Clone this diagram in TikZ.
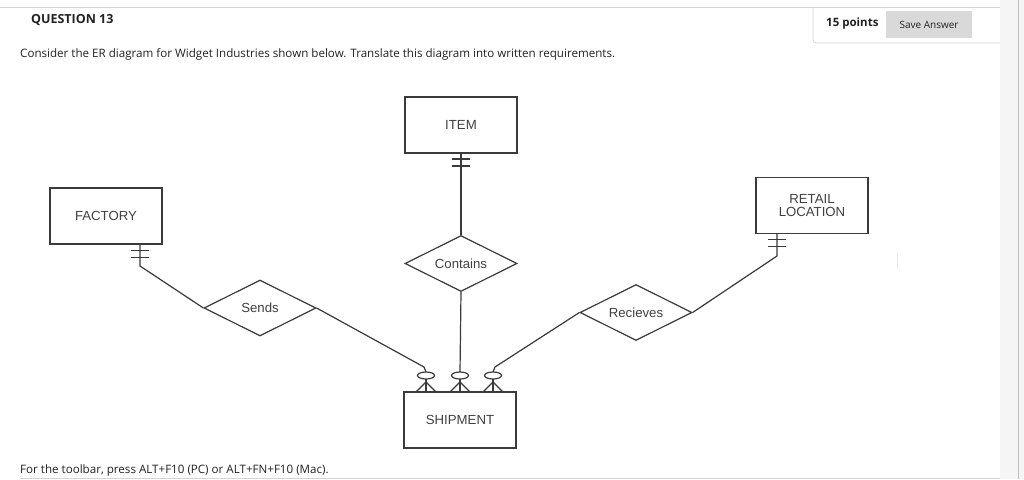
\documentclass[tikz,border=0pt]{standalone}
\usepackage{fontspec}
\setmainfont{Open Sans}
\newfontfamily\diafont{Liberation Sans}
\usetikzlibrary{shapes.geometric}
\definecolor{linec}{HTML}{3A3A3A}
\definecolor{txtc}{HTML}{222222}
\definecolor{diatxt}{HTML}{404040}
\definecolor{rulec}{HTML}{D4D4D4}
\definecolor{btnc}{HTML}{D9D9D9}
\tikzset{
  entity/.style={draw=linec, line width=1.2pt, minimum width=112pt, minimum height=56pt, inner sep=0pt, font=\diafont\fontsize{13.2}{15}\selectfont, text=diatxt, align=center},
  relation/.style={draw=linec, line width=1.2pt, shape=diamond, aspect=2, minimum width=112pt, minimum height=56pt, inner sep=0pt, font=\diafont\fontsize{13.2}{15}\selectfont, text=diatxt},
  conn/.style={draw=linec, line width=1.2pt},
  pagetext/.style={anchor=west, inner sep=0pt, text=txtc, font=\fontsize{11.6}{13}\selectfont},
}
\begin{document}
\begin{tikzpicture}[x=1pt,y=-1pt]
\useasboundingbox (0,0) rectangle (1024,479);
\fill[white] (0,0) rectangle (1024,479);
% right scroll band
\fill[black!4] (1000,0) rectangle (1024,479);
\draw[black!25, line width=1pt] (1018,0) -- (1018,479);
% top rule and points box
\draw[rulec, line width=1pt] (0,7) -- (1000,7);
\draw[rulec, line width=0.8pt, rounded corners=3pt] (813,7) -- (813,43) -- (1000,43);
% header texts
\node[pagetext, font=\bfseries\fontsize{12.5}{14}\selectfont] (q) at (31,20) {QUESTION 13};
\node[pagetext] (consider) at (20,54) {Consider the ER diagram for Widget Industries shown below. Translate this diagram into written requirements.};
\node[pagetext, font=\bfseries\fontsize{11.5}{13}\selectfont] (pts) at (826,24) {15 points};
\node[fill=btnc, minimum width=86pt, minimum height=27pt, inner sep=0pt, text=txtc, font=\fontsize{10}{12}\selectfont] (save) at (929,24.5) {Save Answer};
\node[pagetext] (toolbar) at (20,470) {For the toolbar, press ALT+F10 (PC) or ALT+FN+F10 (Mac).};
\draw[rulec, line width=0.8pt] (20,478.5) -- (1000,478.5);
% faint mark
\draw[black!8, line width=0.6pt] (897,253) -- (897,269);

% entities
\node[entity] (item) at (461,125) {ITEM};
\node[entity] (factory) at (106,216) {FACTORY};
\node[entity] (retail) at (812,205.5) {RETAIL\\[-1.5pt]LOCATION};
\node[entity] (ship) at (460,420) {SHIPMENT};
% relationships
\node[relation] (sends) at (260,308) {Sends};
\node[relation] (contains) at (461,263.5) {Contains};
\node[relation] (recv) at (636,312.5) {Recieves};

% coordinates for crow's feet
\coordinate (fa) at (140,244);
\coordinate (fb) at (140,266);
\coordinate (ia) at (461,153);
\coordinate (ra) at (777,233);
\coordinate (rb) at (777,256);
\coordinate (s1) at (426,372);
\coordinate (s2) at (460,372);
\coordinate (s3) at (493,372);

% FACTORY -- Sends
\draw[conn] (fa) -- (fb) -- (sends.west);
\draw[conn] (131,250.5) -- (149,250.5) (131,257.5) -- (149,257.5);
% ITEM -- Contains
\draw[conn] (ia) -- (contains.north);
\draw[conn] (452,159) -- (470,159) (452,166) -- (470,166);
% RETAIL -- Recieves
\draw[conn] (ra) -- (rb) -- (recv.east);
\draw[conn] (768,239.5) -- (786,239.5) (768,246.5) -- (786,246.5);
% relations -- SHIPMENT
\draw[conn] (sends.east) -- (424,367) -- (s1);
\draw[conn] (contains.south) -- (s2);
\draw[conn] (recv.west) -- (495,367) -- (s3);
% zero-or-many ends
\foreach \c in {s1,s2,s3}{
  \draw[conn] ([yshift=-3.5pt]\c) ellipse[x radius=8.5pt, y radius=3.5pt];
  \draw[conn] ([yshift=-7pt]\c) -- ([yshift=-20pt]\c);
  \draw[conn] ([yshift=-10pt]\c) -- ([xshift=-10pt,yshift=-20pt]\c);
  \draw[conn] ([yshift=-10pt]\c) -- ([xshift=10pt,yshift=-20pt]\c);
}
\end{tikzpicture}
\end{document}
